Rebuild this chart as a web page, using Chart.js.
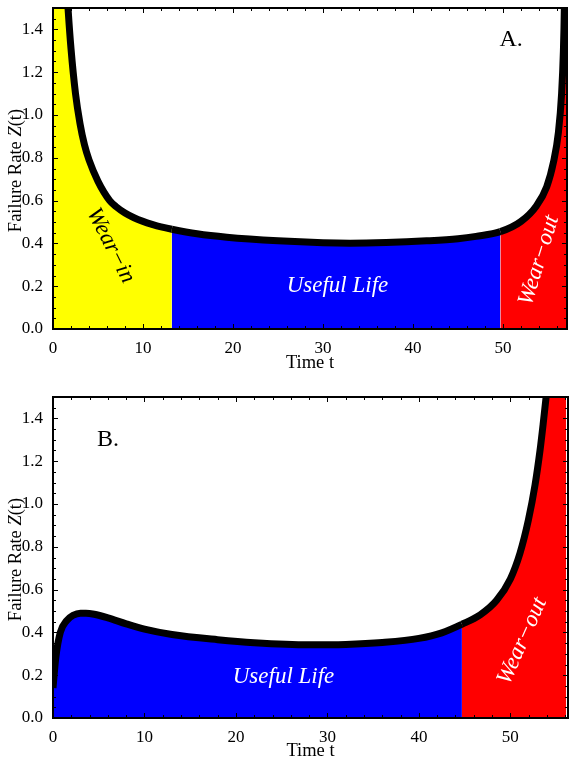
<!DOCTYPE html>
<html>
<head>
<meta charset="utf-8">
<script src="https://cdn.jsdelivr.net/npm/chart.js@4.4.1/dist/chart.umd.min.js"></script>
<style>
  html, body { margin: 0; padding: 0; background: #fff; }
  #wrap { position: relative; width: 572px; height: 762px; }
  canvas { position: absolute; left: 0; }
  #chartA { top: 0; }
  #chartB { top: 380px; }
</style>
</head>
<body>
<div id="wrap">
  <canvas id="chartA" width="572" height="380"></canvas>
  <canvas id="chartB" width="572" height="382"></canvas>
</div>
<script>
// Panel A: bathtub curve with wear-in, useful life and wear-out phases
const timeA = [0.05, 0.5, 1.0, 1.5, 1.7, 2.0, 2.5, 3.0, 3.5, 4.0, 5.0, 6.3, 7, 8, 9, 10, 11, 12, 13.2,
  16, 19.3, 25, 30, 33, 37, 41.5, 45, 47, 49.7, 52, 53.7, 54.85, 55.6, 56.15, 56.5, 56.7, 56.8, 57.0];
const rateA = [40, 4.3, 2.3, 1.62, 1.48, 1.31, 1.10, 0.96, 0.86, 0.79, 0.69, 0.60, 0.572, 0.542, 0.52, 0.503, 0.489, 0.477, 0.466,
  0.445, 0.429, 0.412, 0.403, 0.401, 0.404, 0.412, 0.422, 0.433, 0.455, 0.503, 0.575, 0.665, 0.78, 0.92, 1.10, 1.30, 1.49, 2.3];
const phaseEndsA = [13.2, 49.7];
const phaseColorsA = ['#ffff00', '#0000ff', '#ff0000'];

// Panel B: no wear-in phase
const timeB = [0, 0.3, 0.8, 1.5, 2.2, 3.0, 3.6, 4.5, 6, 8, 10, 13, 18, 22, 28, 32, 36, 40, 42.5,
  44.7, 46.7, 48.5, 50.0, 51.05, 51.97, 52.7, 53.24, 53.6, 53.9, 54.3, 55.0, 56.1];
const rateB = [0.14, 0.28, 0.40, 0.455, 0.48, 0.49, 0.49, 0.485, 0.468, 0.44, 0.415, 0.39, 0.366, 0.352, 0.342,
  0.344, 0.353, 0.372, 0.398, 0.438, 0.482, 0.55, 0.65, 0.77, 0.925, 1.09, 1.25, 1.38, 1.497, 1.66, 2.1, 3.5];
const phaseEndsB = [44.7];
const phaseColorsB = ['#0000ff', '#ff0000'];

const yTickLabels = ['0.0', '0.2', '0.4', '0.6', '0.8', '1.0', '1.2', '1.4'];
const xTickLabels = ['0', '10', '20', '30', '40', '50'];
// y title pieces: [text, italic]
const yTitleParts = [['Failure Rate ', false], ['Z', true], ['(t)', false]];

const SERIF = "'Liberation Serif', 'DejaVu Serif', serif";

function phaseColor(t, ends, colors) {
  let i = 0;
  while (i < ends.length && t > ends[i]) i++;
  return colors[i];
}

function isStep(v, step) {
  return Math.abs(v / step - Math.round(v / step)) < 1e-6;
}

// frame with inward ticks on all four sides
const framePlugin = {
  id: 'frame',
  afterDatasetsDraw(chart) {
    const { ctx, chartArea: a, scales: { x, y } } = chart;
    ctx.save();
    ctx.strokeStyle = '#000';
    ctx.lineWidth = 1;
    ctx.beginPath();
    x.ticks.forEach(tk => {
      if (!isStep(tk.value, 2)) return;
      const px = Math.round(x.getPixelForValue(tk.value)) + 0.5;
      const len = isStep(tk.value, 10) ? 5 : 3;
      ctx.moveTo(px, a.bottom); ctx.lineTo(px, a.bottom - len);
      ctx.moveTo(px, a.top); ctx.lineTo(px, a.top + len);
    });
    y.ticks.forEach(tk => {
      if (!isStep(tk.value, 0.05)) return;
      const py = Math.round(y.getPixelForValue(tk.value)) + 0.5;
      const len = isStep(tk.value, 0.2) ? 5 : 3;
      ctx.moveTo(a.left, py); ctx.lineTo(a.left + len, py);
      ctx.moveTo(a.right, py); ctx.lineTo(a.right - len, py);
    });
    ctx.stroke();
    ctx.lineWidth = 2;
    ctx.strokeRect(a.left, a.top, a.right - a.left, a.bottom - a.top);
    ctx.restore();
  }
};

// rotated y title with an italic Z
const yTitlePlugin = {
  id: 'ytitle',
  afterDraw(chart) {
    const { ctx, chartArea: a } = chart;
    const fontOf = it => (it ? 'italic ' : '') + '18.5px ' + SERIF;
    ctx.save();
    let total = 0;
    yTitleParts.forEach(([s, it]) => { ctx.font = fontOf(it); total += ctx.measureText(s).width; });
    ctx.translate(16, (a.top + a.bottom) / 2 + 2);
    ctx.rotate(-Math.PI / 2);
    ctx.fillStyle = '#000';
    ctx.textBaseline = 'middle';
    ctx.textAlign = 'left';
    let pos = -total / 2;
    yTitleParts.forEach(([s, it]) => {
      ctx.font = fontOf(it);
      ctx.fillText(s, pos, 0);
      pos += ctx.measureText(s).width;
    });
    ctx.restore();
  }
};

function notesPlugin(items) {
  return {
    id: 'notes',
    afterDatasetsDraw(chart) {
      const { ctx, scales: { x, y } } = chart;
      items.forEach(n => {
        ctx.save();
        ctx.translate(x.getPixelForValue(n.t), y.getPixelForValue(n.z));
        ctx.rotate(n.angle * Math.PI / 180);
        ctx.font = n.font;
        ctx.fillStyle = n.color;
        ctx.textAlign = 'center';
        ctx.textBaseline = 'middle';
        ctx.fillText(n.text, 0, 0);
        ctx.restore();
      });
    }
  };
}

function makeChart(id, time, rate, ends, colors, xMax, layoutPad, xAxisHeight, xTitleGap, notes) {
  const tickFont = { family: SERIF, size: 17 };
  const titleFont = { family: SERIF, size: 18.5 };
  return new Chart(document.getElementById(id), {
    type: 'line',
    data: {
      datasets: [{
        data: time.map((t, i) => ({ x: t, y: rate[i] })),
        borderColor: '#000',
        borderWidth: 7,
        borderJoinStyle: 'round',
        pointRadius: 0,
        cubicInterpolationMode: 'monotone',
        fill: 'origin',
        clip: 0,
        backgroundColor: colors[0],
        segment: {
          backgroundColor: c => phaseColor((c.p0.parsed.x + c.p1.parsed.x) / 2, ends, colors)
        }
      }]
    },
    options: {
      responsive: false,
      animation: false,
      layout: { padding: layoutPad },
      plugins: { legend: { display: false }, tooltip: { enabled: false } },
      scales: {
        x: {
          type: 'linear',
          min: 0,
          max: xMax,
          grid: { display: false },
          border: { display: false },
          ticks: {
            stepSize: 2,
            includeBounds: false,
            autoSkip: false,
            maxRotation: 0,
            minRotation: 0,
            padding: 1,
            color: '#000',
            font: tickFont,
            callback: v => isStep(v, 10) ? xTickLabels[Math.round(v / 10)] : ''
          },
          title: {
            display: true,
            text: 'Time t',
            color: '#000',
            font: titleFont,
            padding: { top: 0, bottom: xTitleGap }
          },
          afterFit: s => {
            s.height = xAxisHeight;
            s.paddingLeft = 0; s.paddingRight = 0;
          }
        },
        y: {
          min: 0,
          max: 1.5,
          grid: { display: false },
          border: { display: false },
          ticks: {
            stepSize: 0.05,
            autoSkip: false,
            padding: 2,
            color: '#000',
            font: tickFont,
            callback: v => isStep(v, 0.2) ? yTickLabels[Math.round(v / 0.2)] : ''
          },
          afterFit: s => {
            s.width = 53;
            s.paddingTop = 0; s.paddingBottom = 0;
          }
        }
      }
    },
    plugins: [framePlugin, yTitlePlugin, notesPlugin(notes)]
  });
}

const noteFont = 'italic 23px ' + SERIF;
const tagFont = '24px ' + SERIF;

makeChart('chartA', timeA, rateA, phaseEndsA, phaseColorsA, 57.1,
  { left: 0, top: 8, right: 5, bottom: 0 }, 51, 6, [
    { text: 'A.', t: 50.9, z: 1.35, angle: 0, font: tagFont, color: '#000' },
    { text: 'Wear\u2212in', t: 6.4, z: 0.39, angle: 63, font: noteFont, color: '#000' },
    { text: 'Useful Life', t: 31.6, z: 0.20, angle: 0, font: noteFont, color: '#fff' },
    { text: 'Wear\u2212out', t: 54.0, z: 0.32, angle: -73, font: noteFont, color: '#fff' }
  ]);

makeChart('chartB', timeB, rateB, phaseEndsB, phaseColorsB, 56.3,
  { left: 0, top: 17, right: 4, bottom: 0 }, 44, 0, [
    { text: 'B.', t: 6.0, z: 1.30, angle: 0, font: tagFont, color: '#000' },
    { text: 'Useful Life', t: 25.2, z: 0.19, angle: 0, font: noteFont, color: '#fff' },
    { text: 'Wear\u2212out', t: 51.3, z: 0.36, angle: -66, font: noteFont, color: '#fff' }
  ]);
</script>
</body>
</html>
